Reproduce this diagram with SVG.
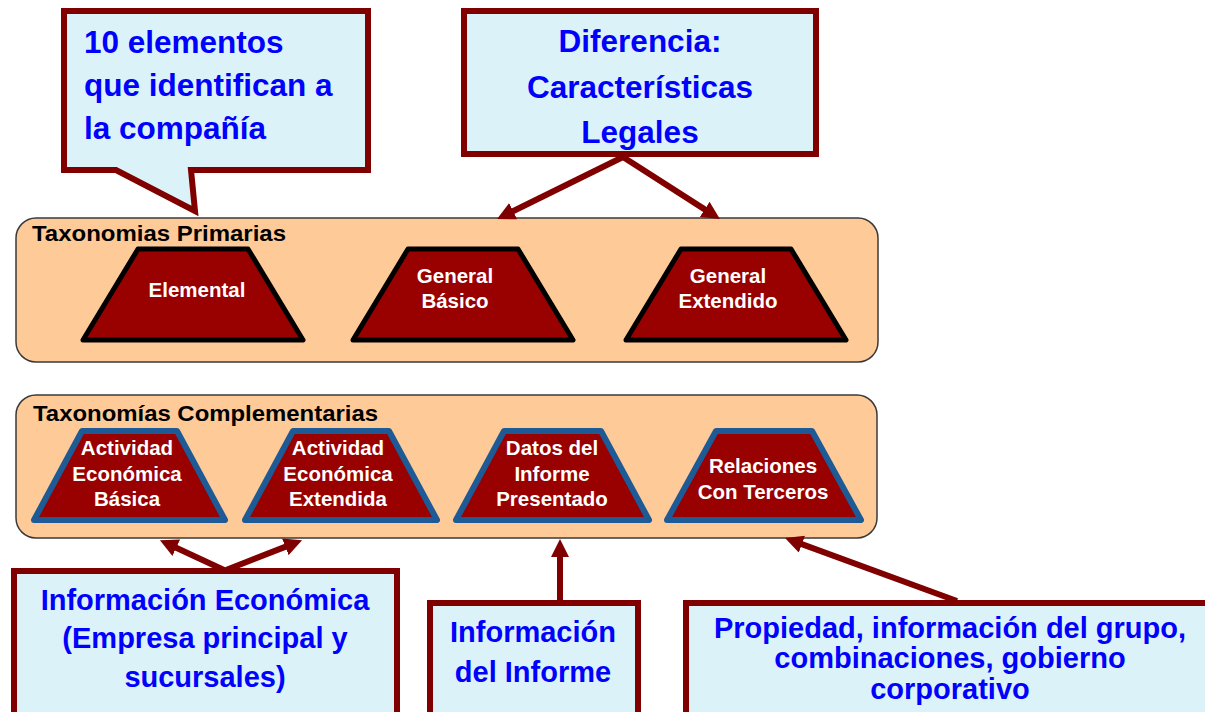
<svg xmlns="http://www.w3.org/2000/svg" width="1205" height="712" viewBox="0 0 1205 712">
<defs>
<style>
.box{fill:#DBF3F8;stroke:#800000;stroke-width:6;stroke-linejoin:miter}
.btxt{font-family:"Liberation Sans",Arial,sans-serif;font-weight:bold;fill:#0000FF}
.panel{fill:#FECB98;stroke:#3A3A3A;stroke-width:1.5}
.htxt{font-family:"Liberation Sans",Arial,sans-serif;font-weight:bold;font-size:22px;fill:#000}
.tp{fill:#990000;stroke:#000;stroke-width:5;stroke-linejoin:round}
.tc{fill:#990000;stroke:#1D5A96;stroke-width:6;stroke-linejoin:round}
.wt{font-family:"Liberation Sans",Arial,sans-serif;font-weight:bold;font-size:20.5px;fill:#FFFFFF;text-anchor:middle}
.conn{stroke:#800000;stroke-width:6;fill:none;marker-end:url(#ah)}
</style>
<marker id="ah" viewBox="0 0 18 18" refX="6" refY="9" markerWidth="18" markerHeight="18" markerUnits="userSpaceOnUse" orient="auto">
<path d="M0,0 L18,9 L0,18 Z" fill="#800000"/>
</marker>
</defs>
<rect width="1205" height="712" fill="#FFFFFF"/>

<g id="callout-elementos">
<path class="box" d="M64,11 H368 V170 H191 L195,211 L116,170 H64 Z"/>
<text class="btxt" font-size="31.5" x="84" y="53">10 elementos</text>
<text class="btxt" font-size="31.5" x="84" y="96">que identifican a</text>
<text class="btxt" font-size="31.5" x="84" y="139">la compañía</text>
</g>

<g id="box-diferencia">
<rect class="box" x="464" y="11" width="352" height="143"/>
<text class="btxt" font-size="31.5" x="640" y="52" text-anchor="middle">Diferencia:</text>
<text class="btxt" font-size="31.5" x="640" y="98" text-anchor="middle">Características</text>
<text class="btxt" font-size="31.5" x="640" y="143" text-anchor="middle">Legales</text>
</g>

<g id="panel-primarias">
<rect class="panel" x="16" y="218" width="862" height="144" rx="20" ry="20"/>
<text class="htxt" x="32" y="241" textLength="254" lengthAdjust="spacingAndGlyphs">Taxonomias Primarias</text>
</g>

<g id="trap-elemental">
<path class="tp" d="M138,249 H248 L303,340 H83 Z"/>
<text class="wt" x="197" y="297">Elemental</text>
</g>
<g id="trap-general-basico">
<path class="tp" d="M408,249 H518 L573,340 H353 Z"/>
<text class="wt" x="455" y="283">General</text>
<text class="wt" x="455" y="308">Básico</text>
</g>
<g id="trap-general-extendido">
<path class="tp" d="M681,249 H791 L846,340 H626 Z"/>
<text class="wt" x="728" y="283">General</text>
<text class="wt" x="728" y="308">Extendido</text>
</g>

<g id="panel-complementarias">
<rect class="panel" x="16" y="395" width="861" height="143" rx="20" ry="20"/>
<text class="htxt" x="33" y="421" textLength="345" lengthAdjust="spacingAndGlyphs">Taxonomías Complementarias</text>
</g>

<g id="trap-actividad-basica">
<path class="tc" d="M82,431 H177 L225,520 H34 Z"/>
<text class="wt" x="127" y="455">Actividad</text>
<text class="wt" x="127" y="481">Económica</text>
<text class="wt" x="127" y="506">Básica</text>
</g>
<g id="trap-actividad-extendida">
<path class="tc" d="M293,431 H389 L437,520 H245 Z"/>
<text class="wt" x="338" y="455">Actividad</text>
<text class="wt" x="338" y="481">Económica</text>
<text class="wt" x="338" y="506">Extendida</text>
</g>
<g id="trap-datos-informe">
<path class="tc" d="M504,431 H601 L649,520 H456 Z"/>
<text class="wt" x="552" y="455">Datos del</text>
<text class="wt" x="552" y="481">Informe</text>
<text class="wt" x="552" y="506">Presentado</text>
</g>
<g id="trap-relaciones">
<path class="tc" d="M716,431 H812 L861,520 H667 Z"/>
<text class="wt" x="763" y="473">Relaciones</text>
<text class="wt" x="763" y="499">Con Terceros</text>
</g>

<g id="box-info-economica">
<rect class="box" x="14" y="571" width="383" height="160"/>
<text class="btxt" font-size="29" x="205" y="610" text-anchor="middle">Información Económica</text>
<text class="btxt" font-size="29" x="205" y="648" text-anchor="middle">(Empresa principal y</text>
<text class="btxt" font-size="29" x="205" y="687" text-anchor="middle">sucursales)</text>
</g>

<g id="box-info-informe">
<rect class="box" x="430" y="603" width="208" height="130"/>
<text class="btxt" font-size="29" x="533" y="642" text-anchor="middle">Información</text>
<text class="btxt" font-size="29" x="533" y="682" text-anchor="middle">del Informe</text>
</g>

<g id="box-propiedad">
<rect class="box" x="686" y="603" width="540" height="130"/>
<text class="btxt" font-size="29" x="950" y="638" text-anchor="middle">Propiedad, información del grupo,</text>
<text class="btxt" font-size="29" x="950" y="668" text-anchor="middle">combinaciones, gobierno</text>
<text class="btxt" font-size="29" x="950" y="699" text-anchor="middle">corporativo</text>
</g>

<g id="connectors">
<line class="conn" x1="623" y1="157" x2="507.8" y2="213.8"/>
<line class="conn" x1="623" y1="157" x2="709.8" y2="212.6"/>
<line class="conn" x1="224" y1="570" x2="170.8" y2="545.2"/>
<line class="conn" x1="226" y1="570" x2="290.9" y2="544.6"/>
<line class="conn" x1="560" y1="601" x2="560" y2="551"/>
<line class="conn" x1="957" y1="601" x2="796.3" y2="542.1"/>
</g>
</svg>
